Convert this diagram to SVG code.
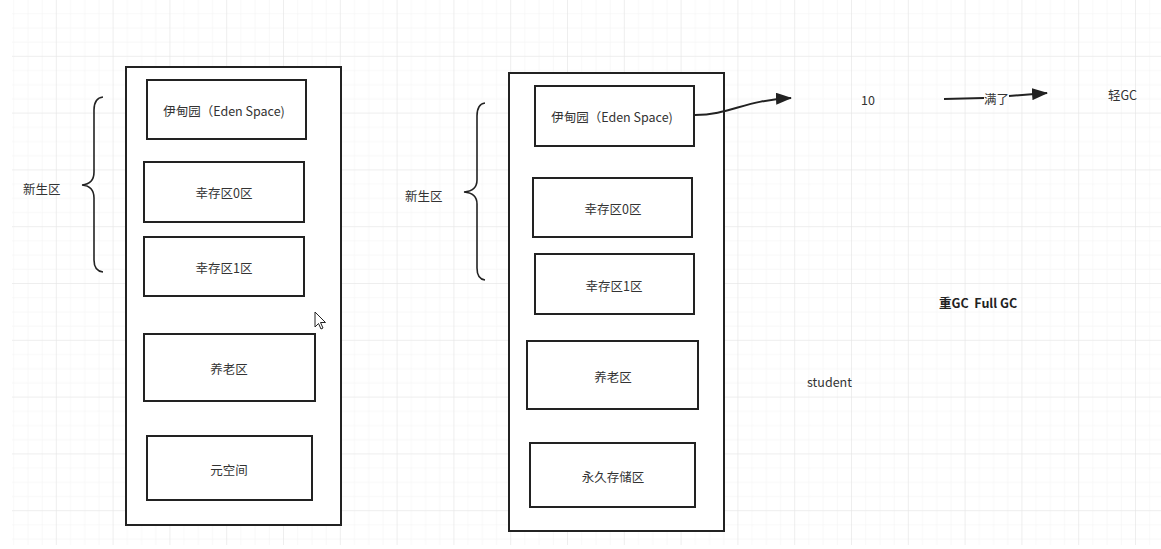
<svg xmlns="http://www.w3.org/2000/svg" width="1161" height="549" viewBox="0 0 1161 549">
<style>
.box{fill:#fff;stroke:#222;stroke-width:2}
.outer{fill:#fff;stroke:#222;stroke-width:2}
.t{font-family:"Noto Sans CJK SC","Liberation Sans",sans-serif;font-size:12.5px;fill:#333;text-anchor:middle;dominant-baseline:central}
.l{font-family:"Noto Sans CJK SC","Liberation Sans",sans-serif;font-size:12.5px;fill:#333;dominant-baseline:central}
.b{font-weight:bold;fill:#222}
.brace{fill:none;stroke:#222;stroke-width:1.6}
.conn{fill:none;stroke:#222;stroke-width:2}
</style>
<defs>
<pattern id="minor" width="14.2" height="14.2" patternUnits="userSpaceOnUse">
<path d="M14.2 0V14.2M0 14.2H14.2" fill="none" stroke="#f1f1f1" stroke-width="1"/>
</pattern>
<pattern id="major" width="56.8" height="56.8" patternUnits="userSpaceOnUse">
<rect width="56.8" height="56.8" fill="url(#minor)"/>
<path d="M56.8 0V56.8M0 56.8H56.8" fill="none" stroke="#e3e3e3" stroke-width="1"/>
</pattern>
<marker id="arr" markerWidth="16" markerHeight="12" refX="15" refY="6" orient="auto" markerUnits="userSpaceOnUse">
<path d="M0 0L16 6L0 12Z" fill="#222"/>
</marker>
</defs>
<rect width="1161" height="549" fill="#fff"/>
<rect x="12" y="0" width="1149" height="545" fill="url(#major)"/>

<g id="left-heap">
<rect class="outer" x="126" y="67" width="215" height="458"/>
</g>
<g id="left-eden"><rect class="box" x="147" y="80" width="159" height="59"/><text class="t" x="224" y="110">伊甸园（Eden Space)</text></g>
<g id="left-s0"><rect class="box" x="144" y="162" width="160" height="60"/><text class="t" x="224" y="192">幸存区0区</text></g>
<g id="left-s1"><rect class="box" x="144" y="237" width="160" height="59"/><text class="t" x="224" y="267">幸存区1区</text></g>
<g id="left-old"><rect class="box" x="144" y="334" width="171" height="67"/><text class="t" x="229" y="368">养老区</text></g>
<g id="left-meta"><rect class="box" x="147" y="436" width="165" height="64"/><text class="t" x="229" y="469">元空间</text></g>
<g id="left-young">
<path class="brace" d="M103 97Q94 98 94 110V172Q94 184 82 185Q94 186 94 198V260Q94 271 103 272"/>
<text class="l" x="23" y="188">新生区</text>
</g>

<g id="right-heap">
<rect class="outer" x="509" y="73" width="215" height="458"/>
</g>
<g id="right-eden"><rect class="box" x="535" y="86" width="159" height="60"/><text class="t" x="612" y="116">伊甸园（Eden Space)</text></g>
<g id="right-s0"><rect class="box" x="533" y="178" width="159" height="59"/><text class="t" x="613" y="208">幸存区0区</text></g>
<g id="right-s1"><rect class="box" x="535" y="254" width="159" height="60"/><text class="t" x="614" y="285">幸存区1区</text></g>
<g id="right-old"><rect class="box" x="527" y="341" width="171" height="68"/><text class="t" x="613" y="376">养老区</text></g>
<g id="right-perm"><rect class="box" x="530" y="443" width="165" height="64"/><text class="t" x="613" y="476">永久存储区</text></g>
<g id="right-young">
<path class="brace" d="M485 103Q477 104 477 116V180Q477 191 464 192Q477 193 477 204V268Q477 279 485 280"/>
<text class="l" x="405" y="195">新生区</text>
</g>

<g id="connectors">
<path class="conn" d="M695 115C730 115 745 100 791 98" marker-end="url(#arr)"/>
<path class="conn" d="M944 99L984 98"/>
<path class="conn" d="M1009 96L1047 93" marker-end="url(#arr)"/>
</g>

<g id="label-10"><text class="l" x="861" y="99">10</text></g>
<g id="label-full"><text class="l" x="984" y="98">满了</text></g>
<g id="label-minor"><text class="l" x="1108" y="94">轻GC</text></g>
<g id="label-major"><text class="l b" x="939" y="302" xml:space="preserve">重GC  Full GC</text></g>
<g id="label-student"><text class="l" x="807" y="381">student</text></g>

<g id="cursor">
<path d="M315 312V327L318.5 323.5L321 329L323 328L320.5 322.5H325.5Z" fill="#fff" stroke="#222" stroke-width="1"/>
</g>
</svg>
